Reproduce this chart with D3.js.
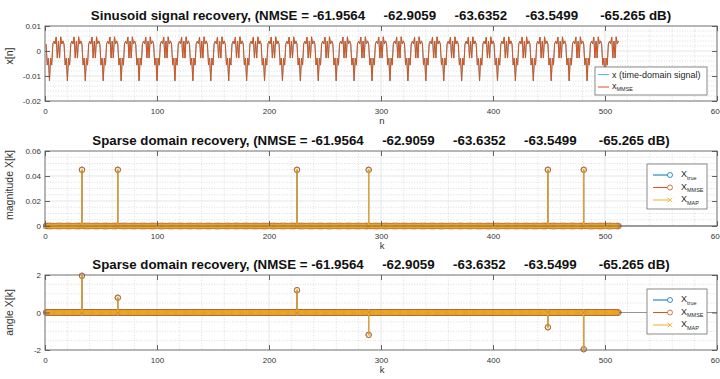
<!DOCTYPE html>
<html>
<head>
<meta charset="utf-8">
<script src="https://cdn.jsdelivr.net/npm/d3@7"></script>
<style>
  html, body { margin: 0; padding: 0; background: #fff; }
  svg { display: block; font-family: "Liberation Sans", Arial, Helvetica, sans-serif; }
</style>
</head>
<body>
<svg id="fig" width="720" height="379"></svg>
<script>
// ---- data ----------------------------------------------------------------
const nmseValues = ["-61.9564", "-62.9059", "-63.6352", "-63.5499", "-65.265"];

// one 16-sample period of the recovered time-domain signal (it repeats 32 times over n = 1..512)
const xPeriod = [0.00277, -0.00562, -0.00283, -0.01193, -0.00280, -0.00564, 0.00286, 0.00392,
                 0.00283, 0.00558, -0.00282, 0.00398, -0.00283, 0.00568, 0.00279, 0.00404];
const signalLength = 512;

// non-zero DFT bins (1-based k) shared by X_true, X_MMSE and X_MAP
const spikeK     = [33, 65, 225, 289, 449, 481];
const spikeMag   = [0.045, 0.045, 0.045, 0.045, 0.045, 0.045];
const spikePhase = [1.96, 0.79, 1.19, -1.19, -0.79, -1.96];

const xTicks        = [0, 100, 200, 300, 400, 500, 600];
const yTicksSignal  = [-0.02, -0.01, 0, 0.01];
const yTicksMag     = [0, 0.02, 0.04, 0.06];
const yTicksAngle   = [-2, 0, 2];

const colTrue   = "#0072BD";
const colMMSE   = "#D95319";
const colMAP    = "#EDB120";
const colSignal = "#4DBEEE";

// ---- layout --------------------------------------------------------------
const svg = d3.select("#fig");
const axLeft = 45, axRight = 717;
const x = d3.scaleLinear().domain([0, 600]).range([axLeft, axRight]);

const titleText = "Sinusoid signal recovery, (NMSE = " +
  nmseValues.map(v => v.padStart(8, " ")).join("     ") + " dB)";
const sparseTitle = "Sparse domain recovery, (NMSE = " +
  nmseValues.map(v => v.padStart(8, " ")).join("     ") + " dB)";

// build the sampled series
const nIdx = d3.range(1, signalLength + 1);
const signal = nIdx.map(n => ({ n, v: xPeriod[(n - 1) % xPeriod.length] }));

function sparseSeries(values) {
  const s = nIdx.map(k => ({ k, v: 0 }));
  spikeK.forEach((k, i) => { s[k - 1].v = values[i]; });
  return s;
}
const magSeries = sparseSeries(spikeMag);
const angSeries = sparseSeries(spikePhase);

function drawPanel(cfg) {
  const g = svg.append("g");
  const y = d3.scaleLinear().domain(cfg.domain).range([cfg.bottom, cfg.top]);
  const top = cfg.top, bottom = cfg.bottom;

  g.append("rect").attr("x", axLeft).attr("y", top)
    .attr("width", axRight - axLeft).attr("height", bottom - top).attr("fill", "#fff");

  // minor grid (dotted)
  const xMinor = d3.range(0, 600 + 1e-9, 20).filter(v => v % 100 !== 0);
  const yMinor = d3.range(cfg.domain[0], cfg.domain[1] + 1e-12, cfg.minor)
    .filter(v => !cfg.ticks.some(t => Math.abs(t - v) < cfg.minor * 0.01));
  const minor = g.append("g").attr("stroke", "#c8c8c8").attr("stroke-width", 0.6)
    .attr("stroke-dasharray", "1,1.6");
  minor.selectAll("line.vx").data(xMinor).join("line")
    .attr("x1", d => x(d)).attr("x2", d => x(d)).attr("y1", top).attr("y2", bottom);
  minor.selectAll("line.hy").data(yMinor).join("line")
    .attr("x1", axLeft).attr("x2", axRight).attr("y1", d => y(d)).attr("y2", d => y(d));

  // major grid
  const major = g.append("g").attr("stroke", "#dedede").attr("stroke-width", 0.8);
  major.selectAll("line.vx").data(xTicks).join("line")
    .attr("x1", d => x(d)).attr("x2", d => x(d)).attr("y1", top).attr("y2", bottom);
  major.selectAll("line.hy").data(cfg.ticks).join("line")
    .attr("x1", axLeft).attr("x2", axRight).attr("y1", d => y(d)).attr("y2", d => y(d));

  // data
  cfg.draw(g, y);

  // box
  g.append("rect").attr("x", axLeft).attr("y", top)
    .attr("width", axRight - axLeft).attr("height", bottom - top)
    .attr("fill", "none").attr("stroke", "#6e6e6e").attr("stroke-width", 0.9);

  // axes (inward ticks)
  const fmt = d => String(d);
  const axB = g.append("g").attr("transform", `translate(0,${bottom})`)
    .call(d3.axisBottom(x).tickValues(xTicks).tickFormat(fmt).tickSizeInner(-5).tickSizeOuter(0).tickPadding(7));
  const axT = g.append("g").attr("transform", `translate(0,${top})`)
    .call(d3.axisTop(x).tickValues(xTicks).tickFormat("").tickSizeInner(-5).tickSizeOuter(0));
  const axL = g.append("g").attr("transform", `translate(${axLeft},0)`)
    .call(d3.axisLeft(y).tickValues(cfg.ticks).tickFormat(fmt).tickSizeInner(-5).tickSizeOuter(0).tickPadding(4));
  const axR = g.append("g").attr("transform", `translate(${axRight},0)`)
    .call(d3.axisRight(y).tickValues(cfg.ticks).tickFormat("").tickSizeInner(-5).tickSizeOuter(0));
  [axB, axT, axL, axR].forEach(a => {
    a.select(".domain").remove();
    a.selectAll(".tick line").attr("stroke", "#555").attr("stroke-width", 0.9);
    a.selectAll(".tick text").attr("fill", "#333").style("font-size", "8px")
      .style("font-family", "'Liberation Sans', Arial, sans-serif");
  });

  // title
  g.append("text").attr("x", (axLeft + axRight) / 2).attr("y", top - 6)
    .attr("text-anchor", "middle").style("white-space", "pre")
    .style("font-size", "13.3px").style("font-weight", "bold").attr("fill", "#111")
    .text(cfg.title);

  // axis labels
  g.append("text").attr("x", (axLeft + axRight) / 2 + 1).attr("y", bottom + 23)
    .attr("text-anchor", "middle").style("font-size", "9.5px").attr("fill", "#333").text(cfg.xlabel);
  g.append("text").attr("transform", `translate(${cfg.ylabelX},${cfg.ylabelY}) rotate(-90)`)
    .attr("text-anchor", "middle").style("font-size", "10.5px").attr("fill", "#333").text(cfg.ylabel);

  cfg.legend(g);
}

function legendBox(g, x0, y0, w, h) {
  g.append("rect").attr("x", x0).attr("y", y0).attr("width", w).attr("height", h)
    .attr("fill", "#fff").attr("stroke", "#6e6e6e").attr("stroke-width", 0.8);
}
function subLabel(g, tx, ty, main, sub) {
  const t = g.append("text").attr("x", tx).attr("y", ty).style("font-size", "9px").attr("fill", "#262626");
  t.append("tspan").text(main);
  t.append("tspan").attr("dy", 2.5).style("font-size", "5.5px").text(sub);
}

function stems(g, y, series, color, marker) {
  const base = y(0);
  g.append("g").selectAll("line").data(series.filter(d => d.v !== 0)).join("line")
    .attr("x1", d => x(d.k)).attr("x2", d => x(d.k)).attr("y1", base).attr("y2", d => y(d.v))
    .attr("stroke", color).attr("stroke-width", 1);
  const m = g.append("g");
  if (marker === "o") {
    m.selectAll("circle").data(series).join("circle")
      .attr("cx", d => x(d.k)).attr("cy", d => y(d.v)).attr("r", 2.7)
      .attr("fill", "none").attr("stroke", color).attr("stroke-width", 0.8);
  } else {
    const s = 2.4;
    m.selectAll("path").data(series).join("path")
      .attr("d", d => { const cx = x(d.k), cy = y(d.v);
        return `M${cx - s},${cy - s}L${cx + s},${cy + s}M${cx - s},${cy + s}L${cx + s},${cy - s}`; })
      .attr("stroke", color).attr("stroke-width", 0.8).attr("fill", "none");
  }
}

function sparseDraw(series) {
  return (g, y) => {
    g.append("line").attr("x1", axLeft).attr("x2", axRight).attr("y1", y(0)).attr("y2", y(0))
      .attr("stroke", "#8a8a8a").attr("stroke-width", 0.9);
    stems(g, y, series, colTrue, "o");
    stems(g, y, series, colMMSE, "o");
    stems(g, y, series, colMAP, "x");
  };
}

function sparseLegend(yOff) {
  return g => {
    const x0 = 647, w = 60, h = 45;
    legendBox(g, x0, yOff, w, h);
    const rows = [
      { c: colTrue, m: "o", sub: "true" },
      { c: colMMSE, m: "o", sub: "MMSE" },
      { c: colMAP, m: "x", sub: "MAP" }
    ];
    rows.forEach((r, i) => {
      const cy = yOff + 11 + i * 12.5;
      g.append("line").attr("x1", 653).attr("x2", 670).attr("y1", cy).attr("y2", cy)
        .attr("stroke", r.c).attr("stroke-width", 1);
      if (r.m === "o") {
        g.append("circle").attr("cx", 670).attr("cy", cy).attr("r", 2.5)
          .attr("fill", "#fff").attr("stroke", r.c).attr("stroke-width", 0.8);
      } else {
        const s = 2.3;
        g.append("path").attr("d", `M${670 - s},${cy - s}L${670 + s},${cy + s}M${670 - s},${cy + s}L${670 + s},${cy - s}`)
          .attr("stroke", r.c).attr("stroke-width", 0.8);
      }
      subLabel(g, 681, cy + 2, "X", r.sub);
    });
  };
}

// ---- panel 1: time-domain signal -----------------------------------------
drawPanel({
  top: 26, bottom: 101, domain: [-0.02, 0.01], ticks: yTicksSignal, minor: 0.002,
  title: titleText, xlabel: "n", ylabel: "x[n]", ylabelX: 13, ylabelY: 56,
  draw: (g, y) => {
    const line = d3.line().x(d => x(d.n)).y(d => y(d.v));
    g.append("path").datum(signal).attr("d", line).attr("fill", "none")
      .attr("stroke", colSignal).attr("stroke-width", 1);
    g.append("path").datum(signal).attr("d", line).attr("fill", "none")
      .attr("stroke", colMMSE).attr("stroke-width", 1);
  },
  legend: g => {
    legendBox(g, 595, 67, 112, 28);
    g.append("line").attr("x1", 598).attr("x2", 609).attr("y1", 74.5).attr("y2", 74.5)
      .attr("stroke", colSignal).attr("stroke-width", 1);
    g.append("text").attr("x", 612).attr("y", 77.5).style("font-size", "9px").attr("fill", "#262626")
      .text("x (time-domain signal)");
    g.append("line").attr("x1", 598).attr("x2", 609).attr("y1", 87).attr("y2", 87)
      .attr("stroke", colMMSE).attr("stroke-width", 1);
    subLabel(g, 612, 88.5, "x", "MMSE");
  }
});

// ---- panel 2: magnitude ----------------------------------------------------
drawPanel({
  top: 151, bottom: 226, domain: [0, 0.06], ticks: yTicksMag, minor: 0.005,
  title: sparseTitle, xlabel: "k", ylabel: "magnitude X[k]", ylabelX: 13, ylabelY: 185,
  draw: sparseDraw(magSeries),
  legend: sparseLegend(164)
});

// ---- panel 3: phase --------------------------------------------------------
drawPanel({
  top: 275, bottom: 350, domain: [-2, 2], ticks: yTicksAngle, minor: 0.5,
  title: sparseTitle, xlabel: "k", ylabel: "angle X[k]", ylabelX: 13, ylabelY: 312.5,
  draw: sparseDraw(angSeries),
  legend: sparseLegend(289)
});
</script>
</body>
</html>
